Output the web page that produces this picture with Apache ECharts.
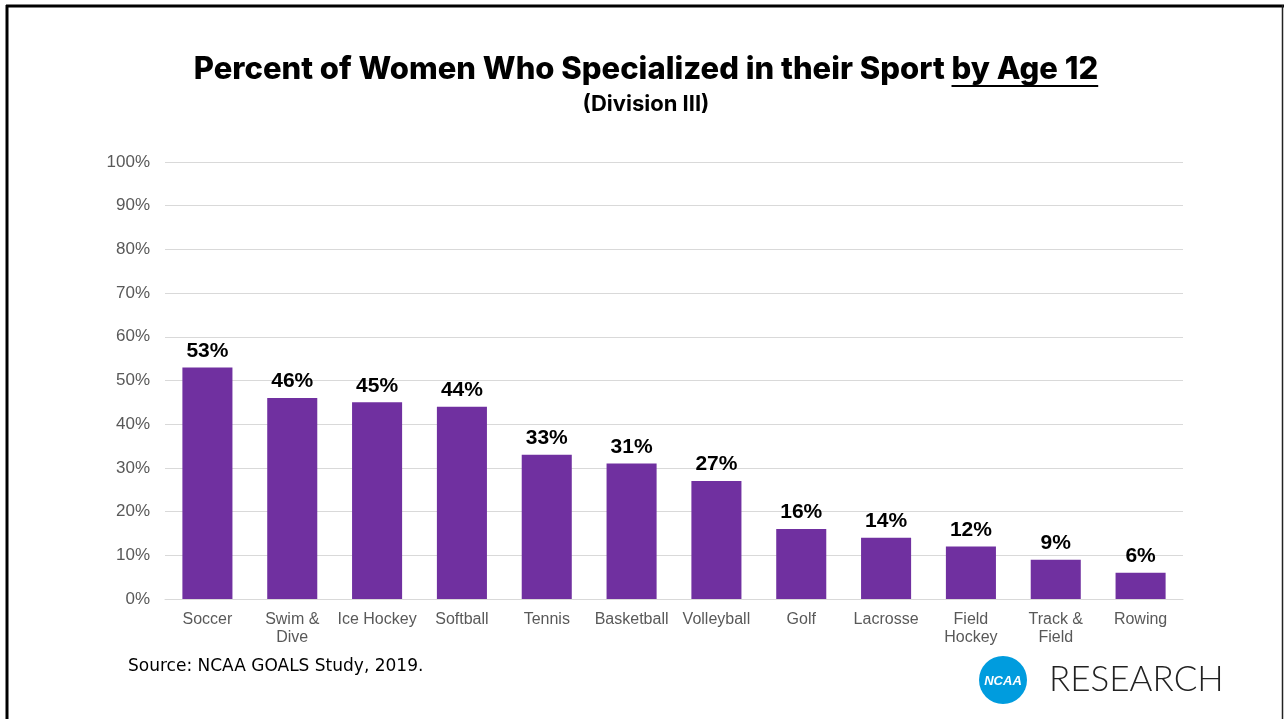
<!DOCTYPE html>
<html>
<head>
<meta charset="utf-8">
<script src="https://cdn.jsdelivr.net/npm/echarts@6/dist/echarts.min.js"></script>
<style>
  html, body { margin: 0; padding: 0; background: #fff; }
  #chart { width: 1284px; height: 719px; }
</style>
</head>
<body>
<div id="chart"></div>
<script>
// Sports (x axis categories) and share of women specialized by age 12
const sports = ['Soccer', 'Swim &\nDive', 'Ice Hockey', 'Softball', 'Tennis', 'Basketball',
  'Volleyball', 'Golf', 'Lacrosse', 'Field\nHockey', 'Track &\nField', 'Rowing'];
const percentSpecialized = [53, 46, 45, 44, 33, 31, 27, 16, 14, 12, 9, 6];

const chart = echarts.init(document.getElementById('chart'), null, { renderer: 'canvas' });

const titleFont = '"Inter", "Roboto", sans-serif';
const titleSize = 31;
const titleCenterX = 646;
const underlineY = 86;

chart.setOption({
  animation: false,
  backgroundColor: '#ffffff',
  grid: { left: 165, right: 101, top: 162, bottom: 120, containLabel: false },
  xAxis: {
    type: 'category',
    data: sports,
    axisLine: { show: true, lineStyle: { color: '#d9d9d9', width: 1 } },
    axisTick: { show: false },
    axisLabel: {
      color: '#595959',
      fontFamily: '"Liberation Sans", Arial, sans-serif',
      fontSize: 16,
      lineHeight: 18,
      margin: 12,
      interval: 0
    }
  },
  yAxis: {
    type: 'value',
    min: 0,
    max: 100,
    interval: 10,
    axisLine: { show: false },
    axisTick: { show: false },
    splitLine: { lineStyle: { color: '#d9d9d9', width: 1 } },
    axisLabel: {
      formatter: '{value}%',
      color: '#595959',
      fontFamily: '"Liberation Sans", Arial, sans-serif',
      fontSize: 17,
      margin: 15
    }
  },
  series: [{
    type: 'bar',
    data: percentSpecialized,
    barWidth: '59%',
    itemStyle: { color: '#7030a0' },
    label: {
      show: true,
      position: 'top',
      distance: 6,
      formatter: '{c}%',
      color: '#000000',
      fontFamily: '"Liberation Sans", Arial, sans-serif',
      fontWeight: 'bold',
      fontSize: 21
    }
  }],
  graphic: [
    // frame around the slide
    { type: 'line', shape: { x1: 6, y1: 6, x2: 1284, y2: 6 }, style: { stroke: '#000', lineWidth: 3 } },
    { type: 'line', shape: { x1: 7, y1: 5, x2: 7, y2: 719 }, style: { stroke: '#000', lineWidth: 3 } },
    { type: 'line', shape: { x1: 1282.5, y1: 5, x2: 1282.5, y2: 719 }, style: { stroke: '#222', lineWidth: 1.5 } },
    // title
    {
      type: 'text', x: titleCenterX, y: 70,
      style: {
        text: 'Percent of Women Who Specialized in their Sport by Age 12',
        fontFamily: titleFont, fontWeight: 800, fontSize: titleSize, fill: '#000',
        align: 'center', verticalAlign: 'middle'
      }
    },
    { type: 'line', id: 'underline', shape: { x1: 950, y1: underlineY, x2: 1100, y2: underlineY }, style: { stroke: '#000', lineWidth: 2 } },
    {
      type: 'text', x: titleCenterX, y: 104,
      style: { text: '(Division III)', fontFamily: titleFont, fontWeight: 700, fontSize: 22, fill: '#000', align: 'center', verticalAlign: 'middle' }
    },
    // source note
    {
      type: 'text', x: 128, y: 667,
      style: { text: 'Source: NCAA GOALS Study, 2019.', fontFamily: '"DejaVu Sans", sans-serif', fontSize: 17, fill: '#000', verticalAlign: 'middle' }
    },
    // NCAA Research logo
    { type: 'circle', shape: { cx: 1003, cy: 680, r: 24 }, style: { fill: '#009cde' } },
    {
      type: 'text', x: 1003, y: 681,
      style: { text: 'NCAA', fontFamily: '"Liberation Sans", Arial, sans-serif', fontWeight: 'bold', fontStyle: 'italic', fontSize: 13, fill: '#fff', align: 'center', verticalAlign: 'middle' }
    },
    {
      type: 'text', x: 1049, y: 680,
      style: { text: 'RESEARCH', fontFamily: '"Lato", "Open Sans", sans-serif', fontWeight: 300, fontSize: 35, fill: '#222', verticalAlign: 'middle' }
    }
  ]
});

// place the underline beneath "by Age 12" using measured text widths
(function () {
  const ctx = document.createElement('canvas').getContext('2d');
  ctx.font = '800 ' + titleSize + 'px ' + titleFont;
  const whole = ctx.measureText('Percent of Women Who Specialized in their Sport by Age 12').width;
  const tail = ctx.measureText('by Age 12').width;
  const right = titleCenterX + whole / 2;
  chart.setOption({ graphic: [{ id: 'underline', shape: { x1: right - tail, y1: underlineY, x2: right, y2: underlineY } }] });
})();
</script>
</body>
</html>
